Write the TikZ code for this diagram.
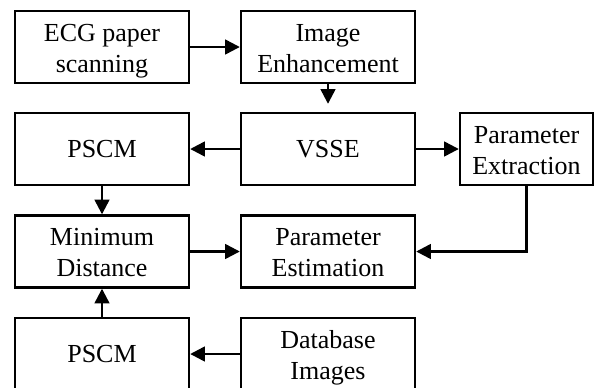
\documentclass[tikz,border=0pt]{standalone}
\usepackage{fontspec}
\setmainfont{Liberation Serif}
\usetikzlibrary{arrows.meta}
\newcommand{\twoline}[2]{\raisebox{-2.7pt}[\height][\depth]{\begin{tabular}{@{}c@{}}#1\\#2\end{tabular}}}
\begin{document}
\begin{tikzpicture}[x=0.75pt,y=-0.75pt,
  blk/.style={draw=black,line width=1.8pt,minimum width=130.5pt,minimum height=54pt,
    align=center,inner sep=0pt,font=\fontsize{19.5}{23.2}\selectfont},
  narrow/.style={blk,minimum width=99.75pt},
  arr/.style={line width=1.8pt,-{Triangle[length=11pt,width=11pt]}},
  ln/.style={line width=1.8pt}]
\useasboundingbox (0,0) rectangle (599,387);
\clip (0,0) rectangle (599,387);
\node[blk] (ecg) at (102,47) {\twoline{ECG paper}{scanning}};
\node[blk] (ie) at (328,47) {\twoline{Image}{Enhancement}};
\node[blk] (pscma) at (102,149) {PSCM};
\node[blk] (vsse) at (328,149) {VSSE};
\node[narrow] (pe) at (526.5,149) {\twoline{Parameter}{Extraction}};
\node[blk] (md) at (102,251.5) {\twoline{Minimum}{Distance}};
\node[blk] (pest) at (328,251.5) {\twoline{Parameter}{Estimation}};
\node[blk] (pscmb) at (102,354) {PSCM};
\node[blk] (db) at (328,354) {\twoline{Database}{Images}};
\coordinate (corner) at (pe.south |- pest.east);
\draw[arr] (ecg) -- (ie);
\draw[arr,shorten >=6pt] (ie) -- (vsse);
\draw[arr] (vsse) -- (pscma);
\draw[arr] (vsse) -- (pe);
\draw[arr] (pscma) -- (md);
\draw[arr] (md) -- (pest);
\draw[arr] (pe.south) -- (corner) -- (pest.east);
\draw[arr] (pscmb) -- (md);
\draw[arr] (db) -- (pscmb);
\end{tikzpicture}
\end{document}
